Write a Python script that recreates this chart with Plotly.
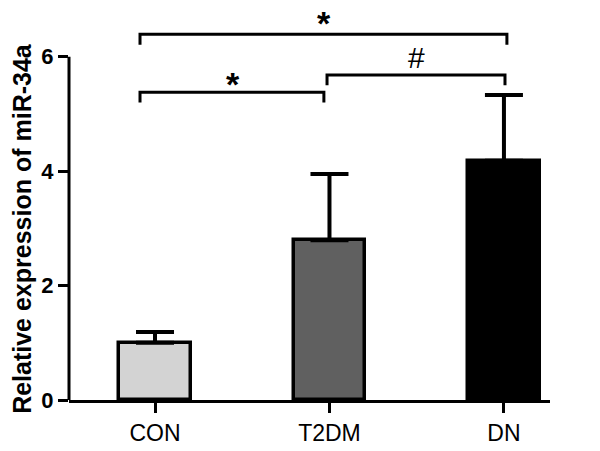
import plotly.graph_objects as go

categories = ["CON", "T2DM", "DN"]
means = [1.0, 2.79, 4.18]
errors = [0.19, 1.16, 1.15]
bar_colors = ["#d3d3d3", "#606060", "#000000"]
y_ticks = [0, 2, 4, 6]
y_title = "Relative expression of miR-34a"

# significance brackets: x start, x end, bracket height, label, label x, label y
brackets = [
    dict(x0=-0.086, x1=2.017, y=6.39, label="*", lx=0.968, ly=6.58),
    dict(x0=-0.086, x1=0.968, y=5.38, label="*", lx=0.447, ly=5.52),
    dict(x0=0.986, x1=2.006, y=5.68, label="#", lx=1.50, ly=5.99),
]
drop = 0.18

xs = list(range(len(categories)))

fig = go.Figure()
fig.add_trace(go.Bar(
    x=xs, y=means, width=0.41,
    marker=dict(color=bar_colors, line=dict(color="black", width=3.5)),
    error_y=dict(type="data", array=errors, arrayminus=[0]*len(errors), symmetric=False,
                 color="black", thickness=4, width=19),
    showlegend=False,
))

for b in brackets:
    fig.add_trace(go.Scatter(
        x=[b["x0"], b["x0"], b["x1"], b["x1"]],
        y=[b["y"] - drop, b["y"], b["y"], b["y"] - drop],
        mode="lines", line=dict(color="black", width=3),
        showlegend=False, hoverinfo="skip",
    ))
    bold = b["label"] == "*"
    fig.add_annotation(
        x=b["lx"], y=b["ly"], text=("<b>%s</b>" % b["label"]) if bold else b["label"],
        showarrow=False, xanchor="center", yanchor="middle",
        font=dict(family="Liberation Sans, Arial", size=34 if bold else 30, color="black"),
    )

# y axis title as rotated annotation (placed like the original, slightly below centre)
fig.add_annotation(
    xref="paper", yref="paper", x=-0.098, y=0.43, text="<b>%s</b>" % y_title,
    textangle=-90, showarrow=False, xanchor="center", yanchor="middle",
    font=dict(family="Liberation Sans, Arial", size=25, color="black"),
)

# y axis line only up to the top tick
fig.add_shape(type="line", xref="paper", yref="y", x0=0, x1=0, y0=0, y1=y_ticks[-1],
              line=dict(color="black", width=3))

fig.update_layout(
    width=600, height=451,
    margin=dict(l=69, r=50, t=0, b=51, autoexpand=False),
    plot_bgcolor="white", paper_bgcolor="white",
    font=dict(family="Liberation Sans, Arial", color="black"),
    bargap=0,
)
fig.update_xaxes(
    range=[-0.493, 2.264], tickvals=xs, ticktext=categories,
    showline=True, linecolor="black", linewidth=3,
    ticks="outside", ticklen=10, tickwidth=3, tickcolor="black",
    tickfont=dict(size=23), showgrid=False, zeroline=False, automargin=False,
)
fig.update_yaxes(
    range=[0, 6.99], tickvals=y_ticks,
    ticktext=["<b>%d</b>" % v for v in y_ticks],
    showline=False, ticks="outside", ticklen=10, tickwidth=3, tickcolor="black",
    tickfont=dict(size=22), showgrid=False, zeroline=False, automargin=False,
)

fig.write_html("out.html", config={"displayModeBar": False},
               post_script="document.body.style.margin='0';")
